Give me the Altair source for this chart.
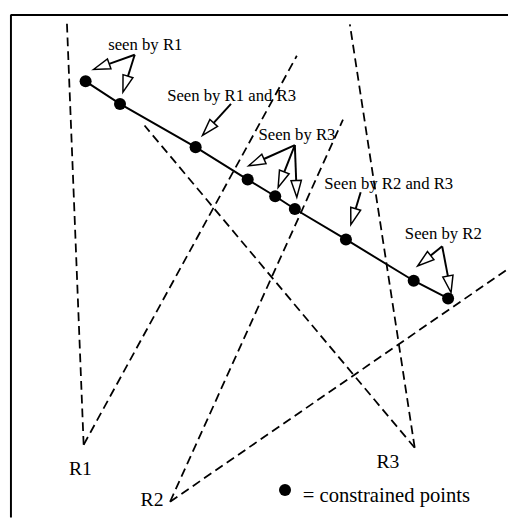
import math
import altair as alt
import pandas as pd

# constrained points (image pixel coordinates)
point_x = [87, 122, 199, 252, 280, 300, 352, 421, 456]
point_y = [77, 100, 144, 177, 194, 207, 238, 280, 298]

# visibility ray boundaries of the three robots
ray_name = ["R1", "R1", "R2", "R2", "R3", "R3"]
ray_apex_x = [85, 85, 173, 173, 422, 422]
ray_apex_y = [447, 447, 505, 505, 450, 450]
ray_end_x = [68, 302, 349, 517, 356, 147]
ray_end_y = [18, 51, 116, 268, 19, 122]

# robot labels
robot_label = ["R1", "R2", "R3"]
robot_label_x = [70, 143, 383]
robot_label_y = [478, 509, 471]

# annotation labels
note_text = ["seen by R1", "Seen by R1 and R3", "Seen by R3", "Seen by R2 and R3", "Seen by R2"]
note_x = [110, 170, 263, 330, 412]
note_y = [45, 97, 137, 187, 238]

# annotation arrows (start -> tip)
arrow_start_x = [137, 137, 235, 300, 300, 300, 367, 450, 450]
arrow_start_y = [50, 50, 100, 142, 142, 142, 190, 245, 245]
arrow_tip_x = [95, 125, 206, 253, 283, 302, 357, 425, 459]
arrow_tip_y = [65, 88, 132, 163, 185, 195, 223, 265, 292]

# legend
legend_dot_x = [290]
legend_dot_y = [493]
legend_text = ["= constrained points"]
legend_text_x = [308]
legend_text_y = [505]

HEAD_LEN = 17
FONT = "Liberation Serif"
W, H = 501, 501

xs = alt.Scale(domain=[8, 8 + W], nice=False, zero=False)
ys = alt.Scale(domain=[8, 8 + H], nice=False, zero=False, reverse=True)


def X(f="x"):
    return alt.X(f"{f}:Q", scale=xs, axis=None)


def Y(f="y"):
    return alt.Y(f"{f}:Q", scale=ys, axis=None)


points = pd.DataFrame({"x": point_x, "y": point_y})
rays = pd.DataFrame({"name": ray_name, "x": ray_apex_x, "y": ray_apex_y,
                     "x2": ray_end_x, "y2": ray_end_y})
robots = pd.DataFrame({"t": robot_label, "x": robot_label_x, "y": robot_label_y})
notes = pd.DataFrame({"t": note_text, "x": note_x, "y": note_y})

rows = []
for sx, sy, tx, ty in zip(arrow_start_x, arrow_start_y, arrow_tip_x, arrow_tip_y):
    dx, dy = tx - sx, ty - sy
    L = math.hypot(dx, dy)
    ux, uy = dx / L, dy / L
    ang = math.degrees(math.atan2(dx, -dy)) % 360
    rows.append({"x": sx, "y": sy, "x2": tx - HEAD_LEN * ux, "y2": ty - HEAD_LEN * uy,
                 "tx": tx, "ty": ty, "ang": ang})
arrows = pd.DataFrame(rows)

frame = pd.DataFrame({"x": [11, 11], "y": [9.5, 9], "x2": [517, 11], "y2": [9.5, 521]})

frame_layer = alt.Chart(frame).mark_rule(color="black", strokeWidth=2).encode(
    x=X(), y=Y(), x2="x2:Q", y2="y2:Q")

ray_layer = alt.Chart(rays).mark_rule(color="black", strokeWidth=1.8, strokeDash=[9, 5]).encode(
    x=X(), y=Y(), x2="x2:Q", y2="y2:Q")

path_layer = alt.Chart(points).mark_line(color="black", strokeWidth=2).encode(
    x=X(), y=Y())

dot_layer = alt.Chart(points).mark_circle(color="black", size=150, opacity=1).encode(
    x=X(), y=Y())

shaft_layer = alt.Chart(arrows).mark_rule(color="black", strokeWidth=2).encode(
    x=X(), y=Y(), x2="x2:Q", y2="y2:Q")

head_layer = alt.Chart(arrows).mark_point(
    shape="M0,0 L0.62,2 L-0.62,2 Z", size=HEAD_LEN ** 2,
    filled=True, fill="white", stroke="black", strokeWidth=1.5, opacity=1
).encode(x=X("tx"), y=Y("ty"), angle=alt.Angle("ang:Q", scale=None))

note_layer = alt.Chart(notes).mark_text(
    font=FONT, fontSize=17, align="left", baseline="alphabetic", color="black"
).encode(x=X(), y=Y(), text="t:N")

robot_layer = alt.Chart(robots).mark_text(
    font=FONT, fontSize=20, align="left", baseline="alphabetic", color="black"
).encode(x=X(), y=Y(), text="t:N")

legend_dot = alt.Chart(pd.DataFrame({"x": legend_dot_x, "y": legend_dot_y})).mark_circle(
    color="black", size=150, opacity=1).encode(x=X(), y=Y())

legend_txt = alt.Chart(pd.DataFrame({"t": legend_text, "x": legend_text_x, "y": legend_text_y})).mark_text(
    font=FONT, fontSize=21, align="left", baseline="alphabetic", color="black"
).encode(x=X(), y=Y(), text="t:N")

chart = alt.layer(
    frame_layer, ray_layer, path_layer, dot_layer, shaft_layer, head_layer,
    note_layer, robot_layer, legend_dot, legend_txt
).properties(width=W, height=H, padding=0, background="white").configure_view(stroke=None)

chart.save("out.html", embed_options={"renderer": "svg", "actions": False})
